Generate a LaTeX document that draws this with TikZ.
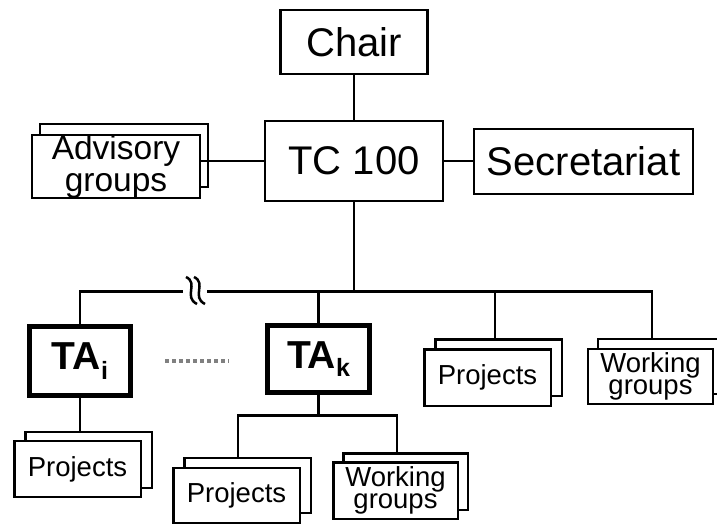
\documentclass[tikz,border=0pt]{standalone}
\usepackage{fontspec}
\setmainfont{Liberation Sans}
\usetikzlibrary{shadows}
\newcommand{\tasub}[2]{\raisebox{#1}{\fontsize{25}{25}\selectfont\bfseries #2}}
\begin{document}
\begin{tikzpicture}[x=1pt,y=-1pt,
  box/.style={draw=black, line width=2.5pt, fill=white, inner sep=0pt, align=center},
  stk/.style 2 args={box, copy shadow={shadow xshift=#1, shadow yshift=#2, draw=black, fill=white, line width=2.5pt}},
  ta/.style={draw=black, line width=5pt, fill=white, inner sep=0pt, font=\fontsize{39}{39}\selectfont\bfseries},
  big/.style={font=\fontsize{40}{40}\selectfont},
  mid/.style={font=\fontsize{33.5}{32}\selectfont},
  small/.style={font=\fontsize{27.5}{20.5}\selectfont},
  link/.style={line width=2.5pt},
  dotline/.style={draw={rgb,255:red,128;green,128;blue,128}, line width=4pt, dash pattern=on 4pt off 3pt}]
\useasboundingbox (0,0) rectangle (717,525);

% nodes
\node[box, big, minimum width=147pt, minimum height=64pt] (chair) at (354,42) {Chair};
\node[box, big, minimum width=178pt, minimum height=80pt] (tc) at (354,161) {TC 100};
\node[box, big, minimum width=219pt, minimum height=65pt] (sec) at (583.5,161.5) {Secretariat};
\node[stk={8pt}{11pt}, mid, minimum width=168pt, minimum height=63pt] (adv) at (116,166.5) {Advisory\\groups};

\node[ta, minimum width=101pt, minimum height=69pt] (tai) at (80,361) {TA\tasub{-10pt}{i}};
\node[ta, minimum width=102pt, minimum height=67pt] (tak) at (318.5,359) {TA\tasub{-8pt}{k}};

\node[stk={11pt}{10pt}, small, minimum width=126.5pt, minimum height=56.5pt] (pr) at (487.5,377.5) {Projects};
\node[stk={10pt}{10pt}, small, minimum width=125pt, minimum height=55pt] (wgr) at (650.5,376.5) {Working\\groups};
\node[stk={11pt}{9pt}, small, minimum width=126.5pt, minimum height=56pt] (pl) at (77.5,469) {Projects};
\node[stk={11pt}{10pt}, small, minimum width=126.5pt, minimum height=55pt] (pb) at (236.5,495.5) {Projects};
\node[stk={10pt}{9pt}, small, minimum width=124.5pt, minimum height=56.5pt] (wb) at (395.5,490.5) {Working\\groups};

% helper coordinates
\coordinate (b1) at (183,291.5);
\coordinate (b2) at (207,291.5);
\coordinate (wgtop) at (652,338.5);
\coordinate (prtop) at ([xshift=7.5pt,yshift=10pt]pr.north);
\coordinate (pltop) at ([xshift=1.5pt,yshift=9pt]pl.north);
\coordinate (pbtop) at ([xshift=1.5pt,yshift=10pt]pb.north);
\coordinate (wbtop) at ([xshift=1.5pt,yshift=9pt]wb.north);
\coordinate (kj) at ([yshift=-20.5pt]tak.south);
\coordinate (d1) at ([xshift=32pt]tai.east);
\coordinate (d2) at ([xshift=-36pt]tak.west);

% connectors
\draw[link] (chair.south) -- (tc.north);
\draw[link] (tc.east) -- (tc.east -| sec.west);
\draw[link] (tc.west -| adv.east) -- (tc.west);
\draw[link] (tc.south) -- (tc.south |- b1);
\draw[link] (tai.north) |- (b1);
\draw[link] (b2) -| (wgtop);
\draw[link] (prtop |- b1) -- (prtop);
\draw[link] (tak.north |- b1) -- (tak.north);
\draw[link] (tai.south) -- (tai.south |- pltop);
\draw[link] (tak.south) -- (kj);
\draw[link] (pbtop) |- (kj -| wbtop) -- (wbtop);
\draw[dotline] (d1) -- (d1 -| d2);

% break mark on the bus
\draw[line width=2.5pt] (186,277) .. controls (199,283) and (183,297) .. (197,304);
\draw[line width=2.5pt] (194,277) .. controls (207,283) and (191,297) .. (205,304);
\end{tikzpicture}
\end{document}
